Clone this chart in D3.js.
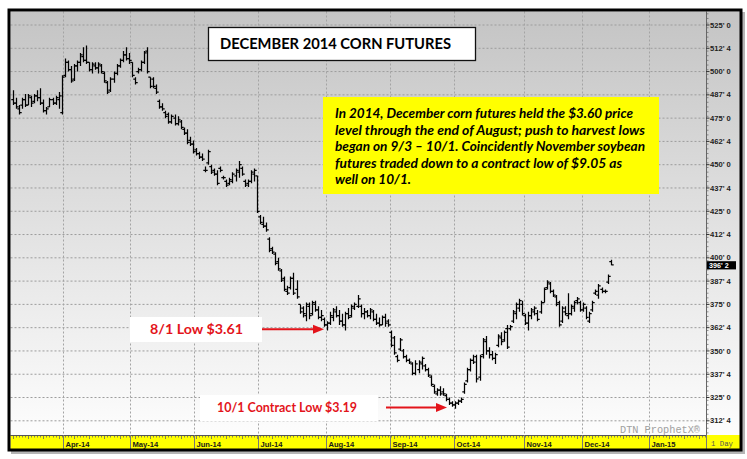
<!DOCTYPE html>
<html><head><meta charset="utf-8">
<script src="https://cdn.jsdelivr.net/npm/d3@7"></script>
<style>body{margin:0;background:#fff}svg{display:block}</style>
</head><body><svg id="c" width="747" height="459"></svg>
<script>
// ---- data: daily OHLC bars, Dec 2014 corn futures (cents/bu), Mar-14 .. Dec-14
const opens = [
 485,483,480,482,485,482,486,484,487,486,483,479,481,485,483,485,478,
 498,505,501,496,503,505,508,506,505,501,503,502,503,499,494,490,496,499,503,506,509,507,
 505,496,500,501,505,511,497,496,491,484,481,478,477,473,475,472,473,469,467,463,461,
 458,456,454,447,451,449,447,445,448,443,441,440,441,444,446,448,441,440,441,445,444,
 422,418,417,410,405,402,398,393,389,382,384,389,383,375,373,369,374,370,375,372,368,367,
 364,365,368,371,369,366,364,370,369,373,374,374,370,371,369,371,367,365,364,368,366,
 360,357,347,351,350,347,345,343,338,340,343,342,340,336,331,327,329,328,326,324,322,
 321,322,323,328,334,340,345,347,336,348,355,350,348,346,353,357,356,362,362,366,370,373,375,
 369,365,369,371,370,371,376,384,386,382,379,376,366,371,369,370,373,377,376,
 372,373,366,372,381,380,383,382,387,398];
const highs = [
 490,486,482,486,488,488,487,488,490,491,485,481,486,486,487,489,498,
 507,506,503,504,506,510,513,514,505,505,505,505,504,500,495,497,500,504,507,511,513,510,
 505,497,502,506,511,513,497,497,493,485,483,479,478,477,477,476,474,470,469,465,463,
 459,457,456,449,458,450,448,447,449,444,442,443,446,448,452,449,442,442,447,448,444,
 423,422,419,411,406,403,400,394,390,385,390,392,388,375,374,376,376,377,377,374,372,368,
 366,371,373,374,372,370,371,373,375,376,380,375,373,372,373,372,370,368,369,370,367,
 361,358,348,357,351,348,346,344,345,345,347,343,341,337,332,330,331,330,327,325,323,
 323,324,325,333,341,346,348,348,348,357,358,352,350,349,359,360,361,364,364,372,376,378,377,
 370,371,373,374,372,377,384,388,387,383,380,377,374,374,381,375,377,379,377,
 376,374,371,377,383,386,384,383,391,399];
const lows = [
 482,480,477,480,481,482,481,483,484,482,478,477,481,482,482,480,477,
 497,500,494,495,500,503,505,504,500,499,501,499,499,494,488,489,494,498,502,505,506,504,
 497,493,499,500,504,499,491,491,488,480,479,475,472,472,471,471,469,466,461,460,456,
 455,453,452,446,450,445,444,439,446,442,438,439,440,441,443,444,438,438,440,441,424,
 418,416,414,403,402,396,393,387,382,380,383,380,378,370,368,366,367,369,371,367,366,363,
 361,364,366,368,364,363,361,367,368,372,373,368,367,368,367,366,364,363,364,363,363,
 352,348,344,350,346,344,343,337,337,338,340,339,336,331,327,326,326,326,323,321,320,
 319,321,322,327,333,339,343,333,334,346,348,346,345,343,352,353,355,351,361,365,367,371,369,
 364,361,367,369,366,370,376,383,381,379,374,363,365,369,367,369,371,375,371,
 371,367,365,371,380,378,381,381,386,396];
const closes = [
 483,481,478,485,482,487,483,487,486,483,479,480,485,483,486,487,497,
 505,501,495,503,505,509,506,505,501,504,502,504,500,495,489,496,499,503,506,509,507,506,
 498,494,501,505,510,500,492,492,489,481,480,476,473,476,472,474,470,467,462,461,457,
 456,454,453,447,457,446,445,440,447,443,439,442,445,447,450,445,439,441,446,447,425,
 419,417,415,404,403,397,394,388,383,381,389,381,379,371,370,375,369,376,372,368,369,364,
 365,369,372,369,366,364,370,368,374,375,378,370,371,369,372,367,365,364,368,365,364,
 353,349,345,356,347,345,344,338,343,344,346,340,337,332,328,329,327,327,324,322,321,
 322,323,324,332,340,345,344,335,347,356,350,348,346,348,358,355,360,352,363,371,375,377,370,
 365,369,372,373,367,376,383,387,382,380,375,364,373,370,370,374,376,378,372,
 375,368,370,376,382,385,382,382,390,396.25];
const monthLabels = ["Apr-14","May-14","Jun-14","Jul-14","Aug-14","Sep-14","Oct-14","Nov-14","Dec-14","Jan-15"];
const monthStartIndex = [17,39,60,81,103,124,145,168,187,209];
const yTickValues = [312.5,325,337.5,350,362.5,375,387.5,400,412.5,425,437.5,450,462.5,475,487.5,500,512.5,525];
const lastPrice = 396.25;
const titleText = "DECEMBER 2014 CORN FUTURES";
const noteLines = [
 "In 2014, December corn futures held the $3.60 price",
 "level through the end of August; push to harvest lows",
 "began on 9/3 \u2013 10/1. Coincidently November soybean",
 "futures traded down to a contract low of $9.05 as",
 "well on 10/1."];
const noteWidths = [298,310,310,287,76];
const ann1 = "8/1 Low $3.61", ann2 = "10/1 Contract Low $3.19";

// ---- layout
const svg = d3.select("#c");
const PL = 10.5, PR = 706, PT = 11.5, PB = 435, AXR = 740, BANDB = 449;
const x = d3.scaleLinear().domain([16.5, 208.5]).range([63.2, 648.8]);
const y = d3.scaleLinear().domain([312.5, 525]).range([420.8, 25]);
const fmt = v => `${Math.floor(v)}' ${Math.round((v - Math.floor(v)) * 8)}`;
const RED = "#e3141b";

const defs = svg.append("defs");
const g1 = defs.append("linearGradient").attr("id","bg").attr("x1",0).attr("y1",0).attr("x2",0).attr("y2",1);
g1.append("stop").attr("offset","0").attr("stop-color","#c4c4c4");
g1.append("stop").attr("offset","0.55").attr("stop-color","#e4e4e4");
g1.append("stop").attr("offset","1").attr("stop-color","#fdfdfd");
defs.append("clipPath").attr("id","plotclip").append("rect")
  .attr("x",PL).attr("y",PT).attr("width",PR-PL).attr("height",PB-PT);

svg.append("rect").attr("width",747).attr("height",459).attr("fill","#fff");
// shadow
svg.append("rect").attr("x",11).attr("y",12).attr("width",734).attr("height",442).attr("fill","#b5b5b5");
svg.append("rect").attr("x",PL).attr("y",PT).attr("width",AXR-PL).attr("height",PB-PT).attr("fill","url(#bg)");

// gridlines
const grid = svg.append("g");
grid.selectAll("line.h").data(yTickValues).join("line")
  .attr("x1",PL).attr("x2",PR).attr("y1",d=>y(d)).attr("y2",d=>y(d))
  .attr("stroke","#9c9c9c").attr("stroke-width",1).attr("stroke-dasharray","2,2");
grid.selectAll("line.v").data(monthStartIndex).join("line")
  .attr("x1",d=>Math.round(x(d-0.5))+0.5).attr("x2",d=>Math.round(x(d-0.5))+0.5)
  .attr("y1",PT).attr("y2",PB)
  .attr("stroke","#a4a4a4").attr("stroke-width",1).attr("stroke-dasharray","2,2");

// watermark
svg.append("text").attr("x",620).attr("y",432.5).attr("textLength",80).attr("lengthAdjust","spacingAndGlyphs")
  .attr("font-family","Liberation Mono, monospace").attr("font-size",10).attr("fill","#a0a0a0")
  .text("DTN ProphetX\u00ae");

// OHLC bars
const bars = svg.append("g").attr("clip-path","url(#plotclip)")
  .attr("stroke","#000").attr("stroke-width",1.25).attr("fill","none");
const idx = d3.range(opens.length);
const bx = i => Math.round(x(i)) + 0.5;
bars.selectAll("path").data(idx).join("path")
  .attr("d", i => {
    const cx = bx(i);
    return `M${cx},${y(highs[i])}V${y(lows[i])}` +
           `M${cx-2.2},${y(opens[i])}H${cx}` +
           `M${cx},${y(closes[i])}H${cx+2.2}`;
  });

// title box
svg.append("rect").attr("x",208.5).attr("y",27.5).attr("width",267).attr("height",33)
  .attr("fill","#fff").attr("stroke","#111").attr("stroke-width",1.3);
svg.append("text").attr("x",220).attr("y",48.5).attr("textLength",231).attr("lengthAdjust","spacingAndGlyphs")
  .attr("font-family","Lato, Calibri, sans-serif").attr("font-weight","bold").attr("font-size",15)
  .attr("fill","#000").text(titleText);

// yellow note
svg.append("rect").attr("x",323).attr("y",97).attr("width",336).attr("height",97).attr("fill","#ffff00");
svg.append("g").selectAll("text").data(noteLines).join("text")
  .attr("x",335).attr("y",(d,i)=>118.3 + i*16.5)
  .attr("textLength",(d,i)=>noteWidths[i]).attr("lengthAdjust","spacingAndGlyphs")
  .attr("font-family","Lato, Calibri, sans-serif").attr("font-weight","bold").attr("font-style","italic")
  .attr("font-size",14).attr("fill","#000").text(d=>d);

// annotations
function arrow(x1, x2, yy){
  svg.append("line").attr("x1",x1).attr("x2",x2-9).attr("y1",yy).attr("y2",yy)
    .attr("stroke",RED).attr("stroke-width",2);
  svg.append("path").attr("d",`M${x2-11},${yy-4.5}L${x2},${yy}L${x2-11},${yy+4.5}Z`).attr("fill",RED);
}
svg.append("rect").attr("x",130).attr("y",317).attr("width",132).attr("height",25).attr("fill","#fff");
svg.append("text").attr("x",150).attr("y",333.5).attr("textLength",93).attr("lengthAdjust","spacingAndGlyphs")
  .attr("font-family","Lato, Calibri, sans-serif").attr("font-weight","bold").attr("font-size",13)
  .attr("fill",RED).text(ann1);
arrow(262, 324, 329.3);
svg.append("rect").attr("x",200).attr("y",395).attr("width",178).attr("height",26).attr("fill","#fff");
svg.append("text").attr("x",217).attr("y",411.7).attr("textLength",140).attr("lengthAdjust","spacingAndGlyphs")
  .attr("font-family","Lato, Calibri, sans-serif").attr("font-weight","bold").attr("font-size",13)
  .attr("fill",RED).text(ann2);
arrow(386, 447, 407.4);

// bottom (time) axis band
svg.append("rect").attr("x",PL).attr("y",PB).attr("width",PR-PL).attr("height",BANDB-PB).attr("fill","#ffff00");
svg.append("line").attr("x1",PL).attr("x2",PR).attr("y1",PB+0.5).attr("y2",PB+0.5).attr("stroke","#555");
const dayTicks = d3.range(-1, 232).filter(i => x(i) > PL && x(i) < PR);
svg.append("g").selectAll("line").data(dayTicks).join("line")
  .attr("x1",i=>bx(i)).attr("x2",i=>bx(i)).attr("y1",PB+1).attr("y2",i=> (i%5===0)?PB+4:PB+2.5)
  .attr("stroke","#666").attr("stroke-width",0.8);
svg.append("g").selectAll("line").data(monthStartIndex).join("line")
  .attr("x1",d=>Math.round(x(d-0.5))+0.5).attr("x2",d=>Math.round(x(d-0.5))+0.5)
  .attr("y1",PB).attr("y2",BANDB).attr("stroke","#777").attr("stroke-width",1);
svg.append("g").selectAll("text").data(monthStartIndex).join("text")
  .attr("x",d=>Math.round(x(d-0.5))+2.5).attr("y",446.5)
  .attr("font-family","Liberation Sans, Arial, sans-serif").attr("font-weight","bold").attr("font-size",7.6)
  .attr("fill","#1a1a1a").text((d,i)=>monthLabels[i]);

// right price axis
svg.append("line").attr("x1",PR+0.5).attr("x2",PR+0.5).attr("y1",PT).attr("y2",PB).attr("stroke","#666");
const minor = d3.range(306, 534, 2.5).filter(v => y(v) > PT && y(v) < PB);
svg.append("g").selectAll("line").data(minor).join("line")
  .attr("x1",PR).attr("x2",PR+2.5).attr("y1",d=>y(d)).attr("y2",d=>y(d)).attr("stroke","#666").attr("stroke-width",0.7);
svg.append("g").selectAll("line").data(yTickValues).join("line")
  .attr("x1",PR).attr("x2",PR+3.5).attr("y1",d=>y(d)).attr("y2",d=>y(d)).attr("stroke","#333").attr("stroke-width",1);
svg.append("g").selectAll("text").data(yTickValues).join("text")
  .attr("x",PR+4).attr("y",d=>y(d)+2.6)
  .attr("font-family","Liberation Sans, Arial, sans-serif").attr("font-weight","bold").attr("font-size",7.6)
  .attr("fill","#222").text(fmt);
// last price box (partly covers the 400' 0 label, as in the original)
svg.append("rect").attr("x",707).attr("y",y(lastPrice)-3.6).attr("width",29).attr("height",8.2).attr("fill","#000");
svg.append("text").attr("x",709).attr("y",y(lastPrice)+3.4)
  .attr("font-family","Liberation Sans, Arial, sans-serif").attr("font-weight","bold").attr("font-size",7.2)
  .attr("fill","#fff").text(fmt(lastPrice));
// "1 Day" box
svg.append("rect").attr("x",PR).attr("y",PB).attr("width",AXR-PR).attr("height",BANDB-PB).attr("fill","#ffff00");
svg.append("line").attr("x1",PR+0.5).attr("x2",PR+0.5).attr("y1",PB).attr("y2",BANDB).attr("stroke","#777");
svg.append("text").attr("x",711).attr("y",446).attr("textLength",22).attr("lengthAdjust","spacingAndGlyphs")
  .attr("font-family","Liberation Mono, monospace").attr("font-size",8).attr("fill","#555").text("1 Day");

// outer frame
svg.append("rect").attr("x",9).attr("y",10).attr("width",732).attr("height",440)
  .attr("fill","none").attr("stroke","#000").attr("stroke-width",3);
</script></body></html>
